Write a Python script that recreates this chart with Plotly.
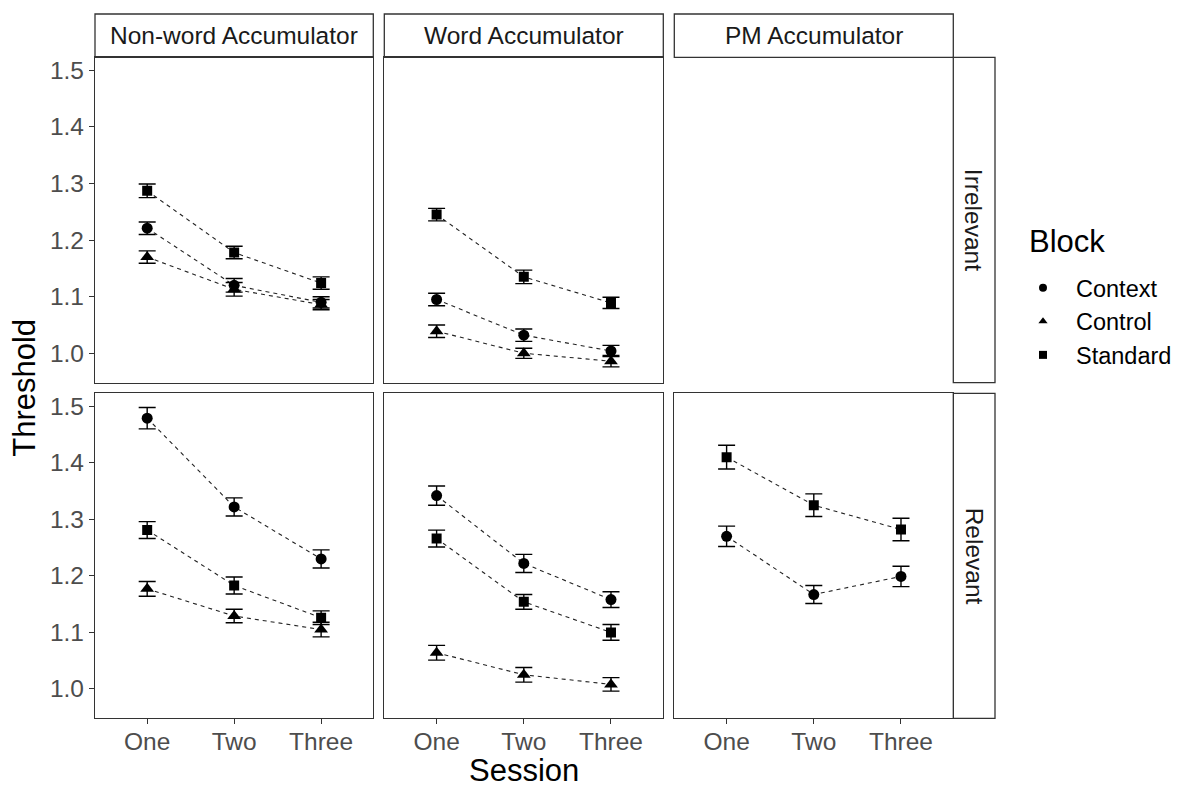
import plotly.graph_objects as go

# ---- data -----------------------------------------------------------------
sessions = ["One", "Two", "Three"]
blocks = ["Context", "Control", "Standard"]
accumulators = ["Non-word Accumulator", "Word Accumulator", "PM Accumulator"]
relevance = ["Irrelevant", "Relevant"]

# Non-word accumulator, PM-irrelevant
nw_irr_context = [1.221, 1.120, 1.090]
nw_irr_context_se = [0.011, 0.012, 0.010]
nw_irr_control = [1.170, 1.113, 1.086]
nw_irr_control_se = [0.011, 0.012, 0.009]
nw_irr_standard = [1.287, 1.178, 1.124]
nw_irr_standard_se = [0.012, 0.011, 0.011]

# Word accumulator, PM-irrelevant
w_irr_context = [1.095, 1.032, 1.004]
w_irr_context_se = [0.011, 0.011, 0.010]
w_irr_control = [1.039, 1.000, 0.986]
w_irr_control_se = [0.011, 0.009, 0.010]
w_irr_standard = [1.245, 1.135, 1.089]
w_irr_standard_se = [0.011, 0.012, 0.010]

# Non-word accumulator, PM-relevant
nw_rel_context = [1.479, 1.322, 1.230]
nw_rel_context_se = [0.019, 0.016, 0.016]
nw_rel_control = [1.177, 1.129, 1.105]
nw_rel_control_se = [0.013, 0.012, 0.013]
nw_rel_standard = [1.281, 1.183, 1.126]
nw_rel_standard_se = [0.015, 0.015, 0.012]

# Word accumulator, PM-relevant
w_rel_context = [1.342, 1.222, 1.158]
w_rel_context_se = [0.017, 0.016, 0.014]
w_rel_control = [1.064, 1.025, 1.008]
w_rel_control_se = [0.013, 0.013, 0.012]
w_rel_standard = [1.266, 1.154, 1.100]
w_rel_standard_se = [0.015, 0.013, 0.014]

# PM accumulator, PM-relevant
pm_rel_context = [1.270, 1.167, 1.199]
pm_rel_context_se = [0.018, 0.016, 0.018]
pm_rel_standard = [1.410, 1.325, 1.282]
pm_rel_standard_se = [0.021, 0.020, 0.020]

y_ticks = [1.0, 1.1, 1.2, 1.3, 1.4, 1.5]

# (row, col) -> list of (block, means, se)
panels = {
    (0, 0): [("Context", nw_irr_context, nw_irr_context_se),
             ("Control", nw_irr_control, nw_irr_control_se),
             ("Standard", nw_irr_standard, nw_irr_standard_se)],
    (0, 1): [("Context", w_irr_context, w_irr_context_se),
             ("Control", w_irr_control, w_irr_control_se),
             ("Standard", w_irr_standard, w_irr_standard_se)],
    (0, 2): [],
    (1, 0): [("Context", nw_rel_context, nw_rel_context_se),
             ("Control", nw_rel_control, nw_rel_control_se),
             ("Standard", nw_rel_standard, nw_rel_standard_se)],
    (1, 1): [("Context", w_rel_context, w_rel_context_se),
             ("Control", w_rel_control, w_rel_control_se),
             ("Standard", w_rel_standard, w_rel_standard_se)],
    (1, 2): [("Context", pm_rel_context, pm_rel_context_se),
             ("Standard", pm_rel_standard, pm_rel_standard_se)],
}

# ---- styling ----------------------------------------------------------------
W, H = 1179, 787
FONT = "Liberation Sans, Arial, sans-serif"
BORDER = "#333333"
TICK_SIZE = 24.5
TITLE_SIZE = 31
symbols = {"Context": "circle", "Control": "triangle-up", "Standard": "square"}
sizes = {"Context": 11, "Control": 12, "Standard": 10}

col_px = [(95.0, 373.3), (384.3, 663.3), (674.3, 953.3)]
row_px = [(57.3, 382.7), (393.3, 718.3)]
strip_top = 14.0
strip_right = 995.0
y_range = [0.948, 1.523]


def fx(px):
    return px / W


def fy(py):
    return 1 - py / H


fig = go.Figure()
layout = {}

for r in range(2):
    for c in range(3):
        k = r * 3 + c + 1
        xs = "" if k == 1 else str(k)
        x0, x1 = col_px[c]
        y0, y1 = row_px[r]
        layout["xaxis" + xs] = dict(
            domain=[fx(x0), fx(x1)], anchor="y" + xs,
            type="category", categoryorder="array", categoryarray=sessions,
            range=[-0.6, 2.6], showgrid=False, zeroline=False,
            showline=True, mirror=True, linecolor=BORDER, linewidth=1.3,
            ticks="outside" if r == 1 else "", ticklen=5, tickwidth=1.3,
            tickcolor=BORDER, showticklabels=(r == 1), ticklabelstandoff=-4,
            tickfont=dict(family=FONT, size=TICK_SIZE, color="#4D4D4D"),
        )
        layout["yaxis" + xs] = dict(
            domain=[fy(y1), fy(y0)], anchor="x" + xs,
            range=y_range, showgrid=False, zeroline=False,
            showline=True, mirror=True, linecolor=BORDER, linewidth=1.3,
            ticks="outside" if c == 0 else "", ticklen=5, tickwidth=1.3,
            tickcolor=BORDER, showticklabels=(c == 0),
            tickvals=y_ticks, ticktext=[f"{v:.1f}" for v in y_ticks],
            tickfont=dict(family=FONT, size=TICK_SIZE, color="#4D4D4D"),
        )

        for block, means, se in panels[(r, c)]:
            # dashed connecting line
            fig.add_trace(go.Scatter(
                x=sessions, y=means, mode="lines",
                line=dict(color="#222222", width=1.1, dash="4px,4px"),
                xaxis="x" + xs, yaxis="y" + xs, showlegend=False,
                hoverinfo="skip",
            ))
            # points with standard-error bars
            fig.add_trace(go.Scatter(
                x=sessions, y=means, mode="markers",
                marker=dict(symbol=symbols[block], size=sizes[block],
                            color="black", line=dict(width=0)),
                error_y=dict(type="data", array=se, visible=True,
                             color="black", thickness=1.4, width=8.5),
                xaxis="x" + xs, yaxis="y" + xs, showlegend=False,
                name=block,
            ))

# legend entries
for block in blocks:
    fig.add_trace(go.Scatter(
        x=[None], y=[None], mode="markers", name=block,
        marker=dict(symbol=symbols[block], size=8, color="black"),
        xaxis="x", yaxis="y", showlegend=True,
    ))

shapes = []
annotations = []

# column strips
for c, label in enumerate(accumulators):
    x0, x1 = col_px[c]
    shapes.append(dict(type="rect", xref="paper", yref="paper",
                       x0=fx(x0), x1=fx(x1), y0=fy(row_px[0][0]), y1=fy(strip_top),
                       line=dict(color=BORDER, width=1.3), fillcolor="white",
                       layer="below"))
    annotations.append(dict(text=label, xref="paper", yref="paper",
                            x=fx((x0 + x1) / 2), y=fy((strip_top + row_px[0][0]) / 2),
                            showarrow=False, xanchor="center", yanchor="middle",
                            font=dict(family=FONT, size=TICK_SIZE, color="#1A1A1A")))

# row strips
for r, label in enumerate(relevance):
    y0, y1 = row_px[r]
    shapes.append(dict(type="rect", xref="paper", yref="paper",
                       x0=fx(col_px[2][1]), x1=fx(strip_right), y0=fy(y1), y1=fy(y0),
                       line=dict(color=BORDER, width=1.3), fillcolor="white",
                       layer="below"))
    annotations.append(dict(text=label, xref="paper", yref="paper",
                            x=fx((col_px[2][1] + strip_right) / 2), y=fy((y0 + y1) / 2),
                            textangle=90, showarrow=False,
                            xanchor="center", yanchor="middle",
                            font=dict(family=FONT, size=TICK_SIZE, color="#1A1A1A")))

# axis titles
annotations.append(dict(text="Session", xref="paper", yref="paper",
                        x=fx((col_px[0][0] + col_px[2][1]) / 2), y=fy(770),
                        showarrow=False, xanchor="center", yanchor="middle",
                        font=dict(family=FONT, size=TITLE_SIZE, color="black")))
annotations.append(dict(text="Threshold", xref="paper", yref="paper",
                        x=fx(25), y=fy((row_px[0][0] + row_px[1][1]) / 2),
                        textangle=-90, showarrow=False,
                        xanchor="center", yanchor="middle",
                        font=dict(family=FONT, size=TITLE_SIZE, color="black")))
# legend title
annotations.append(dict(text="Block", xref="paper", yref="paper",
                        x=fx(1027), y=fy(241), showarrow=False,
                        xanchor="left", yanchor="middle",
                        font=dict(family=FONT, size=TITLE_SIZE, color="black")))

layout.update(
    width=W, height=H,
    margin=dict(l=0, r=0, t=0, b=0, autoexpand=False),
    paper_bgcolor="white", plot_bgcolor="white",
    shapes=shapes, annotations=annotations,
    legend=dict(
        x=fx(1010), y=fy(266), xanchor="left", yanchor="top",
        font=dict(family=FONT, size=23.5, color="black"),
        bgcolor="rgba(0,0,0,0)", itemwidth=56, tracegroupgap=0,
    ),
    showlegend=True,
)
fig.update_layout(**layout)

fig.write_html("out.html")
